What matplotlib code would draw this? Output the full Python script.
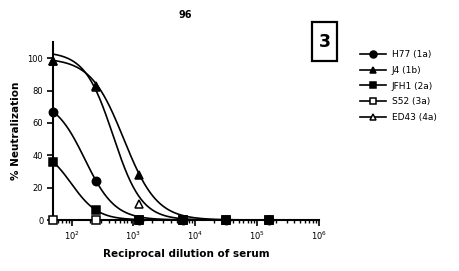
import numpy as np
import matplotlib
matplotlib.use("Agg")
import matplotlib.pyplot as plt
from matplotlib.lines import Line2D
from matplotlib.patches import Rectangle
from matplotlib.ticker import LogLocator, NullFormatter, FixedLocator

plt.rcParams['font.family'] = ['DejaVu Sans']

# reciprocal serum dilutions (5-fold)
dilution = [50, 250, 1250, 6250, 31250, 156250]

# % neutralization per isolate
h77 = [67, 24, 0, 0, 0, 0]
j4 = [98, 83, 28, 0, 0, 0]
jfh1 = [36, 6, 0, 0, 0, 0]
s52 = [0, 0, 0, 0, 0, 0]
ed43 = [98, 82, 10, 0, 0, 0]

labels = ["H77 (1a)", "J4 (1b)", "JFH1 (2a)", "S52 (3a)", "ED43 (4a)"]
markers = ["o", "^", "s", "s", "^"]
filled = [True, True, True, False, False]

# fitted curve params: top, IC50, hill (bottom = 0)
fit_top = [75, 100, 45, None, 104]
fit_ic50 = [164, 698, 99, None, 470]
fit_hill = [1.79, 1.62, 2.02, None, 1.89]

series = [h77, j4, jfh1, s52, ed43]
zorders = [5, 6, 7, 5, 4]

W, H = 460, 271
fig = plt.figure(figsize=(W / 100, H / 100), dpi=100)
ax = fig.add_axes([53 / W, 1 - 220 / H, (319 - 53) / W, (220 - 42) / H])

xs = np.logspace(np.log10(50), 6, 400)
for i, ys in enumerate(series):
    fc = "black" if filled[i] else "white"
    ax.plot(dilution, ys, ls="none", marker=markers[i], ms=6, mfc=fc,
            mec="black", mew=1.1, clip_on=False, zorder=zorders[i])
    if fit_top[i] is not None:
        curve = fit_top[i] / (1 + (xs / fit_ic50[i]) ** fit_hill[i])
        ax.plot(xs, curve, color="black", lw=1.2, zorder=3, clip_on=False)

ax.set_xscale("log")
ax.set_xlim(50, 1e6)
ax.set_ylim(0, 110)

for s in ["top", "right"]:
    ax.spines[s].set_visible(False)
for s in ["left", "bottom"]:
    ax.spines[s].set_linewidth(1.5)

ax.yaxis.set_major_locator(FixedLocator([0, 20, 40, 60, 80, 100]))
ax.xaxis.set_minor_locator(LogLocator(base=10, subs=np.arange(2, 10), numticks=20))
ax.xaxis.set_minor_formatter(NullFormatter())
ax.set_xticks([1e2, 1e3, 1e4, 1e5, 1e6])
ax.set_xticklabels([r"$10^{2}$", r"$10^{3}$", r"$10^{4}$", r"$10^{5}$", r"$10^{6}$"])

ax.tick_params(axis="both", which="major", length=4, width=1.2, labelsize=6, pad=3)
ax.tick_params(axis="x", which="minor", length=2.5, width=1.0)

ax.set_xlabel("Reciprocal dilution of serum", fontsize=7.5, fontweight="bold", labelpad=5)
ax.set_ylabel("% Neutralization", fontsize=7.5, fontweight="bold", labelpad=5)
fig.text(185 / W, 1 - 15 / H, "96", fontsize=7, fontweight="bold",
         ha="center", va="center")

# panel number box
fig.patches.append(Rectangle((312 / W, 1 - 61 / H), 25 / W, 39 / H, transform=fig.transFigure,
                             fc="white", ec="black", lw=1.6))
fig.text(324.5 / W, 1 - 42 / H, "3", fontsize=12.5, fontweight="bold", ha="center", va="center")

handles = []
for i in range(5):
    fc = "black" if filled[i] else "white"
    handles.append(Line2D([0], [0], color="black", lw=1.2, marker=markers[i], ms=5,
                          mfc=fc, mec="black", mew=1.1))
fig.legend(handles, labels, loc="upper left", bbox_to_anchor=(360 / W, 1 - 50 / H),
           frameon=False, fontsize=6.5, handlelength=2.9, handletextpad=0.6,
           labelspacing=0.75, borderaxespad=0, borderpad=0)

fig.savefig("out.png", dpi=100)
